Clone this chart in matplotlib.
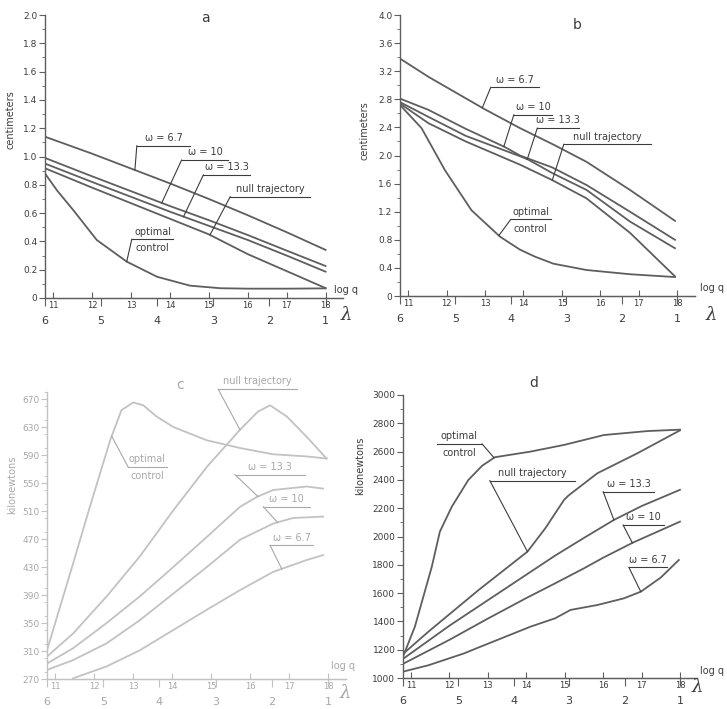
import matplotlib
matplotlib.use("Agg")
import matplotlib.pyplot as plt
import numpy as np
from matplotlib.ticker import MultipleLocator, FuncFormatter

# x axis is log q; lambda runs 6 -> 1 underneath it
def to_lam(q):
    return 1 + (18.0 - q) / 1.442

def to_q(lam):
    return 18.0 - (lam - 1) * 1.442

logq_ticks = [11, 12, 13, 14, 15, 16, 17, 18]
lam_ticks = [6, 5, 4, 3, 2, 1]

# ---- panel a (centimeters)
a_q67 = [10.79, 12, 13, 14, 15, 16, 17, 18]
a_w67 = [1.14, 1.02, 0.915, 0.81, 0.70, 0.585, 0.465, 0.34]
a_q10 = [10.79, 12, 13, 14, 15, 16, 17, 18]
a_w10 = [0.99, 0.86, 0.755, 0.65, 0.55, 0.445, 0.335, 0.226]
a_q133 = [10.79, 12, 13, 14, 15, 16, 17, 18]
a_w133 = [0.95, 0.82, 0.715, 0.61, 0.51, 0.41, 0.30, 0.186]
a_qnull = [10.79, 12, 13, 14, 15, 16, 17, 18]
a_null = [0.917, 0.78, 0.67, 0.56, 0.45, 0.31, 0.19, 0.07]
a_qopt = [10.79, 11.1, 11.52, 12.12, 12.89, 13.67, 14.52, 15.3, 16, 17, 18]
a_opt = [0.88, 0.76, 0.62, 0.41, 0.257, 0.15, 0.087, 0.069, 0.066, 0.066, 0.068]

# ---- panel b (centimeters)
b_q67 = [10.79, 11.53, 12.99, 13.91, 14.8, 15.64, 16.77, 17.94]
b_w67 = [3.38, 3.12, 2.66, 2.39, 2.15, 1.91, 1.51, 1.07]
b_q10 = [10.79, 11.53, 12.5, 13.52, 13.91, 14.75, 15.64, 16.77, 17.94]
b_w10 = [2.81, 2.65, 2.38, 2.12, 2.0, 1.83, 1.58, 1.20, 0.80]
b_q133 = [10.79, 11.53, 12.5, 13.91, 14.13, 14.75, 15.64, 16.77, 17.94]
b_w133 = [2.76, 2.55, 2.28, 1.99, 1.94, 1.75, 1.51, 1.06, 0.68]
b_qnull = [10.79, 11.53, 12.5, 13.91, 14.75, 15.64, 16.77, 17.94]
b_null = [2.74, 2.46, 2.20, 1.87, 1.65, 1.39, 0.90, 0.28]
b_qopt = [10.79, 11.35, 11.96, 12.65, 13.39, 13.91, 14.3, 14.78, 15.64, 16.77, 17.94]
b_opt = [2.72, 2.39, 1.79, 1.22, 0.845, 0.66, 0.56, 0.46, 0.37, 0.31, 0.27]

# ---- panel c (kilonewtons)
c_qopt = [10.79, 11.46, 11.89, 12.41, 12.70, 13.0, 13.26, 13.6, 14.03, 14.89, 15.74, 16.59, 17.45, 17.96]
c_opt = [311, 435, 516, 611, 654, 665, 661, 645, 630, 611, 600, 591, 588, 585]
c_qnull = [10.79, 11.46, 12.32, 13.17, 14.03, 14.89, 15.74, 16.2, 16.51, 16.94, 17.45, 17.96]
c_null = [302, 335, 388, 445, 511, 573, 626, 652, 661, 645, 616, 585]
c_q133 = [10.79, 11.46, 12.32, 13.17, 14.03, 14.89, 15.74, 16.17, 16.59, 17.45, 17.87]
c_w133 = [292, 314, 350, 388, 430, 473, 516, 530, 540, 545, 542]
c_q10 = [10.79, 11.46, 12.32, 13.17, 14.03, 14.89, 15.74, 16.59, 17.1, 17.87]
c_w10 = [283, 297, 321, 354, 392, 430, 469, 492, 500, 502]
c_q67 = [11.46, 12.32, 13.17, 14.03, 14.89, 15.74, 16.59, 17.45, 17.87]
c_w67 = [271, 288, 311, 340, 369, 397, 423, 440, 447]

# ---- panel d (kilonewtons)
d_qopt = [10.79, 11.1, 11.54, 11.75, 12.06, 12.49, 12.85, 13.18, 14.11, 14.98, 16.02, 17.15, 18.0]
d_opt = [1150, 1363, 1786, 2034, 2210, 2399, 2500, 2560, 2600, 2647, 2717, 2745, 2755]
d_qnull = [10.79, 11.45, 12.75, 14.03, 14.5, 14.98, 15.1, 15.85, 16.89, 18.0]
d_null = [1170, 1327, 1620, 1893, 2060, 2258, 2290, 2447, 2588, 2750]
d_q133 = [10.79, 12.0, 13.0, 14.0, 14.75, 15.5, 16.28, 17.0, 18.0]
d_w133 = [1135, 1370, 1550, 1730, 1865, 1990, 2117, 2215, 2330]
d_q10 = [10.79, 12.0, 13.0, 14.0, 14.75, 15.5, 16.0, 16.76, 18.0]
d_w10 = [1100, 1270, 1420, 1565, 1669, 1775, 1850, 1955, 2105]
d_q67 = [10.79, 11.45, 12.38, 12.75, 14.11, 14.75, 15.15, 15.85, 16.54, 16.98, 17.5, 17.97]
d_w67 = [1045, 1090, 1174, 1215, 1363, 1422, 1481, 1516, 1563, 1610, 1710, 1834]

DARK = "#5e5e5e"
TXT = "#3c3c3c"
PALE = "#c2c2c2"
PALE_TXT = "#a8a8a8"


def tag(ax, text, xs, ys, x_at, bar, yb, color, from_right=False, below=None):
    x0, x1 = bar
    xe = x1 if from_right else x0
    ax.plot([x0, x1], [yb, yb], color=color, lw=0.8, clip_on=False)
    ax.plot([xe, x_at], [yb, np.interp(x_at, xs, ys)], color=color, lw=0.8, clip_on=False)
    ax.annotate(text, ((x0 + x1) / 2, yb), xytext=(0, 2), textcoords="offset points",
                ha="center", va="bottom", fontsize=7, color=color, annotation_clip=False)
    if below:
        ax.annotate(below, ((x0 + x1) / 2, yb), xytext=(0, -3), textcoords="offset points",
                    ha="center", va="top", fontsize=7, color=color, annotation_clip=False)


def setup(ax, ylim, major, minor, fmt, ylabel, ylab_pos, letter, letter_pos,
          logq_pos, lam_pos, line_c, txt_c):
    ax.set_xlim(10.79, 18.45)
    ax.set_ylim(*ylim)
    for s in ("top", "right"):
        ax.spines[s].set_visible(False)
    for s in ("left", "bottom"):
        ax.spines[s].set_color(line_c)
        ax.spines[s].set_linewidth(1.0)
    ax.yaxis.set_major_locator(MultipleLocator(major))
    ax.yaxis.set_minor_locator(MultipleLocator(minor))
    ax.yaxis.set_major_formatter(FuncFormatter(fmt))
    ax.tick_params(axis="y", which="both", direction="out", colors=line_c,
                   labelcolor=txt_c, labelsize=6.5, pad=1.5)
    ax.tick_params(axis="y", which="major", length=4)
    ax.tick_params(axis="y", which="minor", length=2.5)
    ax.set_xticks(logq_ticks)
    ax.set_xticklabels([str(t) for t in logq_ticks])
    ax.tick_params(axis="x", direction="in", length=4, colors=line_c,
                   labelcolor=txt_c, labelsize=6, pad=2)
    sec = ax.secondary_xaxis("bottom", functions=(to_lam, to_q))
    sec.set_xticks(lam_ticks)
    sec.set_xticklabels([str(t) for t in lam_ticks])
    sec.spines["bottom"].set_color(line_c)
    sec.tick_params(direction="out", length=6, colors=line_c, labelcolor=txt_c,
                    labelsize=8, pad=7)
    ax.set_ylabel(ylabel, fontsize=7, color=txt_c)
    ax.yaxis.set_label_coords(*ylab_pos)
    ax.text(letter_pos[0], letter_pos[1], letter, transform=ax.transAxes,
            ha="center", va="center", fontsize=10, color=txt_c)
    ax.text(logq_pos[0], logq_pos[1], "log q", transform=ax.transAxes,
            ha="center", va="center", fontsize=7, color=txt_c)
    ax.text(lam_pos[0], lam_pos[1], "λ", transform=ax.transAxes, ha="center",
            va="center", fontsize=13, color=txt_c, family="DejaVu Serif", style="italic")


def dec(v, _):
    return "0" if abs(v) < 1e-9 else f"{v:.1f}"


def whole(v, _):
    return f"{v:.0f}"


fig = plt.figure(figsize=(7.27, 7.09), dpi=100)
ax_a = fig.add_axes([0.0619, 0.5797, 0.410, 0.3991])
ax_b = fig.add_axes([0.5502, 0.5825, 0.4052, 0.3963])
ax_c = fig.add_axes([0.0646, 0.0423, 0.4109, 0.4048])
ax_d = fig.add_axes([0.5543, 0.0437, 0.4048, 0.3992])

# panel a
for xs, ys in [(a_q67, a_w67), (a_q10, a_w10), (a_q133, a_w133), (a_qnull, a_null), (a_qopt, a_opt)]:
    ax_a.plot(xs, ys, color=DARK, lw=1.3)
setup(ax_a, (0, 2.0), 0.2, 0.1, dec, "centimeters", (-0.10, 0.63), "a", (0.537, 0.99),
      (1.01, 0.03), (1.01, -0.06), DARK, TXT)
tag(ax_a, "ω = 6.7", a_q67, a_w67, 13.1, (13.15, 14.52), 1.076, TXT)
tag(ax_a, "ω = 10", a_q10, a_w10, 13.79, (14.3, 15.5), 0.975, TXT)
tag(ax_a, "ω = 13.3", a_q133, a_w133, 14.35, (14.86, 16.06), 0.87, TXT)
tag(ax_a, "null trajectory", a_qnull, a_null, 15.03, (15.55, 17.6), 0.716, TXT)
tag(ax_a, "optimal", a_qopt, a_opt, 12.89, (13.02, 14.09), 0.415, TXT, below="control")

# panel b
for xs, ys in [(b_q67, b_w67), (b_q10, b_w10), (b_q133, b_w133), (b_qnull, b_null), (b_qopt, b_opt)]:
    ax_b.plot(xs, ys, color=DARK, lw=1.3)
setup(ax_b, (0, 4.0), 0.4, 0.2, dec, "centimeters", (-0.105, 0.59), "b", (0.60, 0.964),
      (1.06, 0.03), (1.056, -0.068), DARK, TXT)
tag(ax_b, "ω = 6.7", b_q67, b_w67, 12.93, (13.15, 14.4), 2.97, TXT)
tag(ax_b, "ω = 10", b_q10, b_w10, 13.49, (13.75, 14.75), 2.58, TXT)
tag(ax_b, "ω = 13.3", b_q133, b_w133, 14.1, (14.36, 15.44), 2.39, TXT)
tag(ax_b, "null trajectory", b_qnull, b_null, 14.75, (15.05, 17.31), 2.16, TXT)
tag(ax_b, "optimal", b_qopt, b_opt, 13.36, (13.67, 14.71), 1.09, TXT, below="control")

# panel c (faded in the source)
for xs, ys in [(c_qopt, c_opt), (c_qnull, c_null), (c_q133, c_w133), (c_q10, c_w10), (c_q67, c_w67)]:
    ax_c.plot(xs, ys, color=PALE, lw=1.3)
setup(ax_c, (270, 680), 40, 20, whole, "kilonewtons", (-0.10, 0.675), "c", (0.445, 1.024),
      (0.99, 0.045), (1.0, -0.05), PALE, PALE_TXT)
ax_c.set_yticks(np.arange(270, 671, 40))
tag(ax_c, "null trajectory", c_qnull, c_null, 15.74, (15.18, 17.19), 684, PALE_TXT)
tag(ax_c, "optimal", c_qopt, c_opt, 12.45, (12.87, 13.86), 573, PALE_TXT, below="control")
tag(ax_c, "ω = 13.3", c_q133, c_w133, 16.2, (15.61, 17.4), 562, PALE_TXT)
tag(ax_c, "ω = 10", c_q10, c_w10, 16.7, (16.34, 17.53), 516, PALE_TXT)
tag(ax_c, "ω = 6.7", c_q67, c_w67, 16.81, (16.51, 17.62), 461, PALE_TXT)

# panel d
for xs, ys in [(d_qopt, d_opt), (d_qnull, d_null), (d_q133, d_w133), (d_q10, d_w10), (d_q67, d_w67)]:
    ax_d.plot(xs, ys, color=DARK, lw=1.3)
setup(ax_d, (1000, 3000), 200, 100, whole, "kilonewtons", (-0.127, 0.75), "d", (0.445, 1.042),
      (1.05, 0.025), (1.0, -0.03), DARK, TXT)
tag(ax_d, "optimal", d_qopt, d_opt, 13.16, (11.67, 12.85), 2654, TXT, from_right=True, below="control")
tag(ax_d, "null trajectory", d_qnull, d_null, 14.03, (13.05, 15.28), 2395, TXT)
tag(ax_d, "ω = 13.3", d_q133, d_w133, 16.28, (16.0, 17.33), 2317, TXT)
tag(ax_d, "ω = 10", d_q10, d_w10, 16.76, (16.52, 17.58), 2081, TXT)
tag(ax_d, "ω = 6.7", d_q67, d_w67, 16.98, (16.67, 17.67), 1782, TXT)

fig.savefig("out.png", dpi=100)
